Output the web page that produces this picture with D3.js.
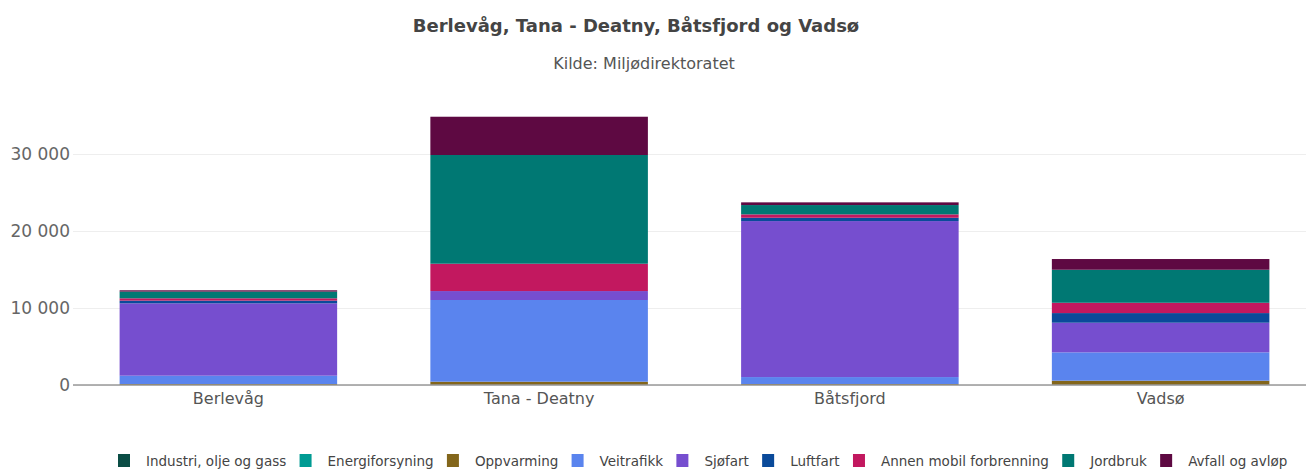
<!DOCTYPE html>
<html>
<head>
<meta charset="utf-8">
<script src="https://cdn.jsdelivr.net/npm/d3@7"></script>
<style>
  body { margin: 0; background: #fff; }
  svg { display: block; font-family: "DejaVu Sans", Verdana, sans-serif; }
</style>
</head>
<body>
<div id="chart"></div>
<script>
// kommuner
var categories = ["Berlevåg", "Tana - Deatny", "Båtsfjord", "Vadsø"]

// utslippskilder, nederst til øverst i stabelen
var series = ["Industri, olje og gass", "Energiforsyning", "Oppvarming", "Veitrafikk",
  "Sjøfart", "Luftfart", "Annen mobil forbrenning", "Jordbruk", "Avfall og avløp"]

var colours = ["#0b4d45", "#009b93", "#83661b", "#5a84ee", "#764ecf",
  "#0a4a9a", "#c2185f", "#007873", "#5e0942"]

// verdier per kilde, i samme rekkefølge som categories
var industri = [0, 0, 0, 0]
var energi = [0, 0, 0, 0]
var oppvarming = [130, 430, 130, 560]
var veitrafikk = [1080, 10610, 900, 3680]
var sjofart = [9400, 1160, 20260, 3850]
var luftfart = [350, 0, 430, 1250]
var annen = [300, 3550, 440, 1340]
var jordbruk = [870, 14120, 1210, 4290]
var avfall = [170, 4970, 350, 1390]

var yTicks = [0, 10000, 20000, 30000]

var values = [industri, energi, oppvarming, veitrafikk, sjofart, luftfart, annen, jordbruk, avfall]

var width = 1306, height = 469
var margin = { top: 100, right: -10, bottom: 84, left: 73 }

var table = categories.map(function(c, i) {
  var row = { kommune: c }
  series.forEach(function(s, j) { row[s] = values[j][i] })
  return row
})

var stacked = d3.stack().keys(series)(table)

var svg = d3.select("#chart").append("svg")
  .attr("width", width)
  .attr("height", height)

var x = d3.scaleBand()
  .domain(categories)
  .range([margin.left, width - margin.right])
  .paddingInner(0.3)
  .paddingOuter(0.15)

var y = d3.scaleLinear()
  .domain([0, 30000])
  .range([385, 154])

var colour = d3.scaleOrdinal().domain(series).range(colours)

// title
svg.append("text")
  .attr("x", 636).attr("y", 32)
  .attr("text-anchor", "middle")
  .style("font-size", "18px").style("font-weight", "bold")
  .style("fill", "#444")
  .text("Berlevåg, Tana - Deatny, Båtsfjord og Vadsø")

svg.append("text")
  .attr("x", 644).attr("y", 69)
  .attr("text-anchor", "middle")
  .style("font-size", "16px")
  .style("fill", "#555")
  .text("Kilde: Miljødirektoratet")

// grid
var fmt = function(d) { return d3.format(",")(d).replace(/,/g, " ") }

var yAxis = svg.append("g")
  .attr("transform", "translate(" + margin.left + ",0)")
  .call(d3.axisLeft(y).tickValues(yTicks).tickSize(-(width - margin.left)).tickFormat(fmt).tickPadding(3))
  .attr("font-family", null)

yAxis.select(".domain").remove()
yAxis.selectAll(".tick line").attr("stroke", "#eeeeee")
yAxis.selectAll(".tick text")
  .style("font-size", "17px").style("fill", "#666")

// bars
svg.append("g").selectAll("g")
  .data(stacked)
  .enter().append("g")
  .attr("fill", function(d) { return colour(d.key) })
  .selectAll("rect")
  .data(function(d) { return d })
  .enter().append("rect")
  .attr("x", function(d) { return x(d.data.kommune) })
  .attr("width", x.bandwidth())
  .attr("y", function(d) { return y(d[1]) })
  .attr("height", function(d) { return y(d[0]) - y(d[1]) })

// x axis
var xAxis = svg.append("g")
  .attr("transform", "translate(0,385)")
  .call(d3.axisBottom(x).tickSize(0).tickPadding(8))
  .attr("font-family", null)

xAxis.select(".domain").attr("stroke", "#999").attr("stroke-width", 1.5)
  .attr("d", "M" + margin.left + ",0H" + width)
xAxis.selectAll(".tick text")
  .style("font-size", "16px").style("fill", "#555")

// legend
var legend = svg.append("g").attr("transform", "translate(0,461)")
var lx = 118
series.forEach(function(s, i) {
  var item = legend.append("g").attr("transform", "translate(" + lx + ",0)")
  item.append("rect")
    .attr("x", 0).attr("y", -7)
    .attr("width", 12).attr("height", 13)
    .attr("fill", colours[i])
  var t = item.append("text")
    .attr("x", 28).attr("y", 4.5)
    .style("font-size", "13.5px").style("fill", "#444")
    .text(s)
  lx += 28 + t.node().getComputedTextLength() + 13.3
})
</script>
</body>
</html>
